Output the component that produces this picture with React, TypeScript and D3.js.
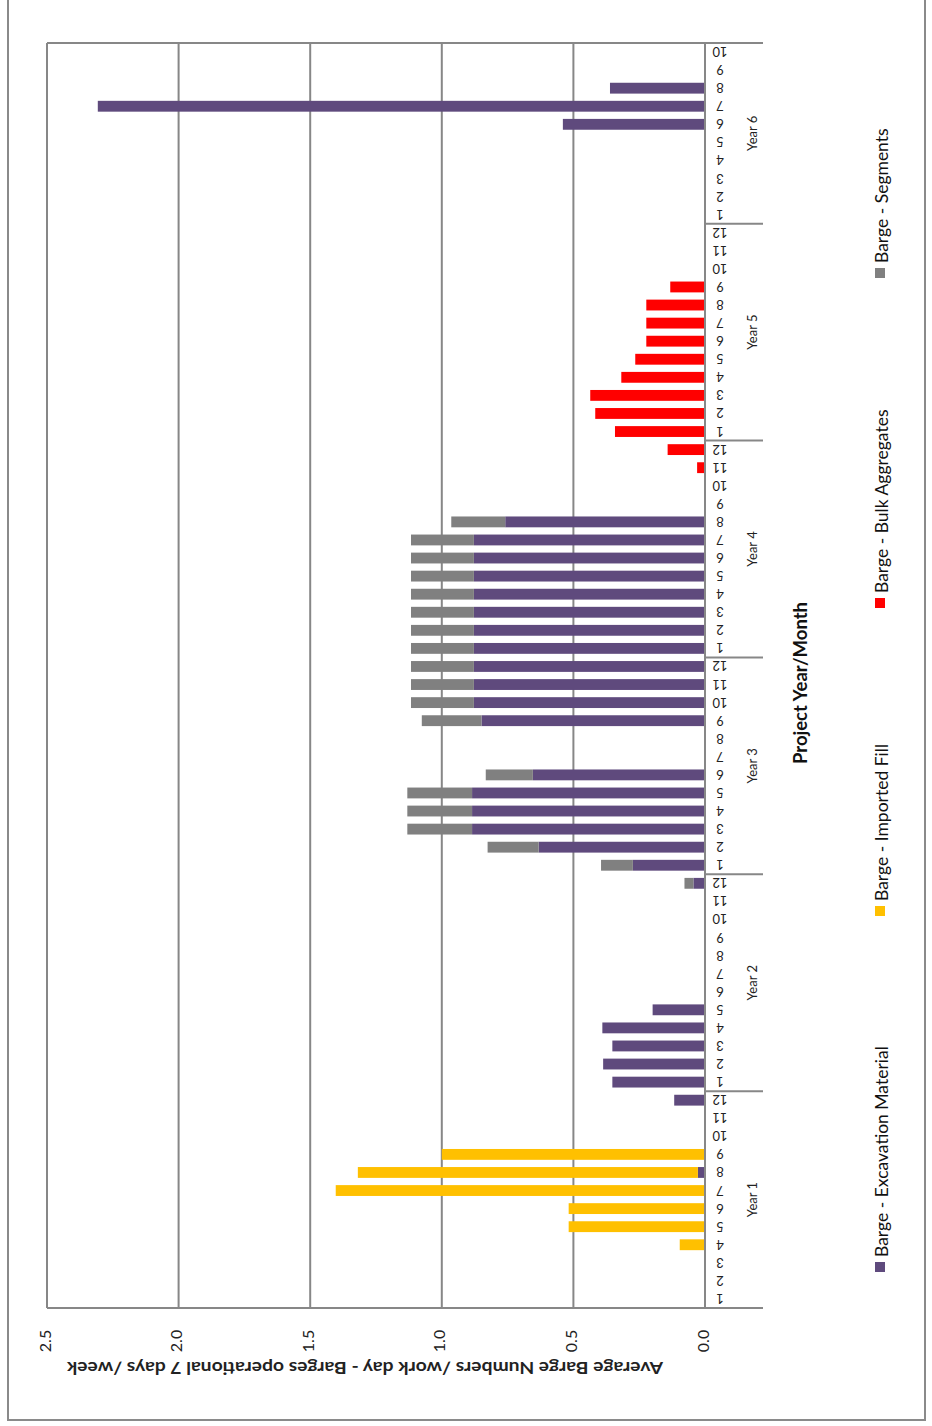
import React from "react";
import * as d3 from "d3";

const years = ["Year 1", "Year 2", "Year 3", "Year 4", "Year 5", "Year 6"];
const monthsPerYear = [12, 12, 12, 12, 12, 10];
const valueTicks = [0, 0.5, 1.0, 1.5, 2.0, 2.5];

const seriesNames = [
  "Barge - Excavation Material",
  "Barge - Imported Fill",
  "Barge - Bulk Aggregates",
  "Barge - Segments",
];
const seriesColors = ["#5F4A7D", "#FFC000", "#FF0000", "#808080"];

// values per month, Year 1 .. Year 6
const excavation = [
  0, 0, 0, 0, 0, 0, 0, 0.027, 0, 0, 0, 0.117,
  0.352, 0.387, 0.352, 0.39, 0.199, 0, 0, 0, 0, 0, 0, 0.044,
  0.274, 0.632, 0.885, 0.885, 0.885, 0.654, 0, 0, 0.849, 0.878, 0.878, 0.878,
  0.878, 0.878, 0.878, 0.878, 0.878, 0.878, 0.878, 0.759, 0, 0, 0, 0,
  0, 0, 0, 0, 0, 0, 0, 0, 0, 0, 0, 0,
  0, 0, 0, 0, 0, 0.54, 2.307, 0.361, 0, 0,
];
const importedFill = [
  0, 0, 0, 0.096, 0.518, 0.518, 1.403, 1.292, 1.0, 0, 0, 0,
  0, 0, 0, 0, 0, 0, 0, 0, 0, 0, 0, 0,
  0, 0, 0, 0, 0, 0, 0, 0, 0, 0, 0, 0,
  0, 0, 0, 0, 0, 0, 0, 0, 0, 0, 0, 0,
  0, 0, 0, 0, 0, 0, 0, 0, 0, 0, 0, 0,
  0, 0, 0, 0, 0, 0, 0, 0, 0, 0,
];
const bulkAggregates = [
  0, 0, 0, 0, 0, 0, 0, 0, 0, 0, 0, 0,
  0, 0, 0, 0, 0, 0, 0, 0, 0, 0, 0, 0,
  0, 0, 0, 0, 0, 0, 0, 0, 0, 0, 0, 0,
  0, 0, 0, 0, 0, 0, 0, 0, 0, 0, 0.03, 0.142,
  0.342, 0.417, 0.436, 0.318, 0.265, 0.223, 0.223, 0.223, 0.132, 0, 0, 0,
  0, 0, 0, 0, 0, 0, 0, 0, 0, 0,
];
const segments = [
  0, 0, 0, 0, 0, 0, 0, 0, 0, 0, 0, 0,
  0, 0, 0, 0, 0, 0, 0, 0, 0, 0, 0, 0.034,
  0.121, 0.194, 0.246, 0.246, 0.246, 0.179, 0, 0, 0.227, 0.239, 0.239, 0.239,
  0.239, 0.239, 0.239, 0.239, 0.239, 0.239, 0.239, 0.205, 0, 0, 0, 0,
  0, 0, 0, 0, 0, 0, 0, 0, 0, 0, 0, 0,
  0, 0, 0, 0, 0, 0, 0, 0, 0, 0,
];

const FONT = "Lato, 'Open Sans', sans-serif";

export default function App() {
  const W = 932;
  const H = 1426;
  const plotLeft = 47;
  const axisX = 705;
  const plotTop = 43;
  const plotBottom = 1308;
  const tickRight = 763;

  const cats: { id: string; year: number; month: number }[] = [];
  years.forEach((_, yi) => {
    for (let m = 1; m <= monthsPerYear[yi]; m++) cats.push({ id: `${yi}-${m}`, year: yi, month: m });
  });

  const rows = cats.map((c, i) => ({
    id: c.id,
    s0: excavation[i],
    s1: importedFill[i],
    s2: bulkAggregates[i],
    s3: segments[i],
  }));

  const x = d3.scaleLinear().domain([0, 2.5]).range([axisX, plotLeft]);
  const y = d3
    .scaleBand<string>()
    .domain(cats.map((c) => c.id))
    .range([plotBottom, plotTop])
    .paddingInner(0.4)
    .paddingOuter(0.2);
  const step = y.step();

  const stack = d3.stack<any>().keys(["s0", "s1", "s2", "s3"]);
  const stacked = stack(rows);

  const gridColor = "#878787";

  const boundaries: number[] = [];
  let acc = 0;
  boundaries.push(plotBottom);
  monthsPerYear.forEach((n) => {
    acc += n;
    boundaries.push(plotBottom - acc * step);
  });

  const legendItems = [
    { name: seriesNames[0], color: seriesColors[0], y: 1267 },
    { name: seriesNames[1], color: seriesColors[1], y: 911 },
    { name: seriesNames[2], color: seriesColors[2], y: 603 },
    { name: seriesNames[3], color: seriesColors[3], y: 273 },
  ];

  return (
    <svg
      width={W}
      height={H}
      style={{ position: "absolute", left: 0, top: 0, background: "#fff" }}
      fontFamily={FONT}
    >
      <rect x={0} y={0} width={W} height={H} fill="#fff" />
      <rect x={8} y={-2} width={917} height={1422} fill="none" stroke="#8a8a8a" strokeWidth={2} />

      {valueTicks.map((v) => (
        <line
          key={"g" + v}
          x1={x(v)}
          x2={x(v)}
          y1={plotTop}
          y2={plotBottom}
          stroke={gridColor}
          strokeWidth={2}
        />
      ))}
      <line x1={plotLeft} x2={tickRight} y1={plotTop} y2={plotTop} stroke={gridColor} strokeWidth={2} />
      <line x1={plotLeft} x2={tickRight} y1={plotBottom} y2={plotBottom} stroke={gridColor} strokeWidth={2} />
      {boundaries.slice(1, -1).map((b, i) => (
        <line key={"b" + i} x1={axisX} x2={tickRight} y1={b} y2={b} stroke={gridColor} strokeWidth={2} />
      ))}

      {stacked.map((layer, si) => (
        <g key={"s" + si} fill={seriesColors[si]}>
          {layer.map((d: any, i: number) => {
            const w = x(d[0]) - x(d[1]);
            if (w <= 0.01) return null;
            return (
              <rect
                key={i}
                x={x(d[1])}
                y={y(rows[i].id)}
                width={w}
                height={y.bandwidth()}
              />
            );
          })}
        </g>
      ))}

      <line x1={axisX} x2={axisX} y1={plotTop} y2={plotBottom} stroke={gridColor} strokeWidth={2} />

      {cats.map((c) => {
        const cy = (y(c.id) as number) + y.bandwidth() / 2;
        return (
          <text
            key={"m" + c.id}
            transform={`translate(720,${cy}) rotate(180)`}
            textAnchor="middle"
            dominantBaseline="central"
            fontSize={13}
            fill="#222"
          >
            {c.month}
          </text>
        );
      })}

      {years.map((yr, i) => {
        const cy = (boundaries[i] + boundaries[i + 1]) / 2;
        return (
          <text
            key={yr}
            transform={`translate(752,${cy}) rotate(-90)`}
            textAnchor="middle"
            dominantBaseline="central"
            fontSize={13}
            fill="#222"
          >
            {yr}
          </text>
        );
      })}

      {valueTicks.map((v) => (
        <text
          key={"t" + v}
          transform={`translate(${x(v) - 3},1341) rotate(-90)`}
          textAnchor="middle"
          dominantBaseline="central"
          fontSize={16}
          fill="#222"
        >
          {v.toFixed(1)}
        </text>
      ))}

      <text
        transform={`translate(365,1368) rotate(180)`}
        textAnchor="middle"
        dominantBaseline="central"
        fontSize={17}
        fontWeight="bold"
        fill="#222"
        textLength={596}
        lengthAdjust="spacingAndGlyphs"
      >
        Average Barge Numbers /work day  -  Barges  operational 7 days /week
      </text>

      <text
        transform={`translate(800,683) rotate(-90)`}
        textAnchor="middle"
        dominantBaseline="central"
        fontSize={18.5}
        fontWeight="bold"
        fill="#111"
      >
        Project Year/Month
      </text>

      {legendItems.map((it) => (
        <g key={it.name}>
          <rect x={875} y={it.y - 5} width={10} height={10} fill={it.color} />
          <text
            transform={`translate(881,${it.y - 10}) rotate(-90)`}
            textAnchor="start"
            dominantBaseline="central"
            fontSize={17.5}
            fill="#111"
          >
            {it.name}
          </text>
        </g>
      ))}
    </svg>
  );
}
